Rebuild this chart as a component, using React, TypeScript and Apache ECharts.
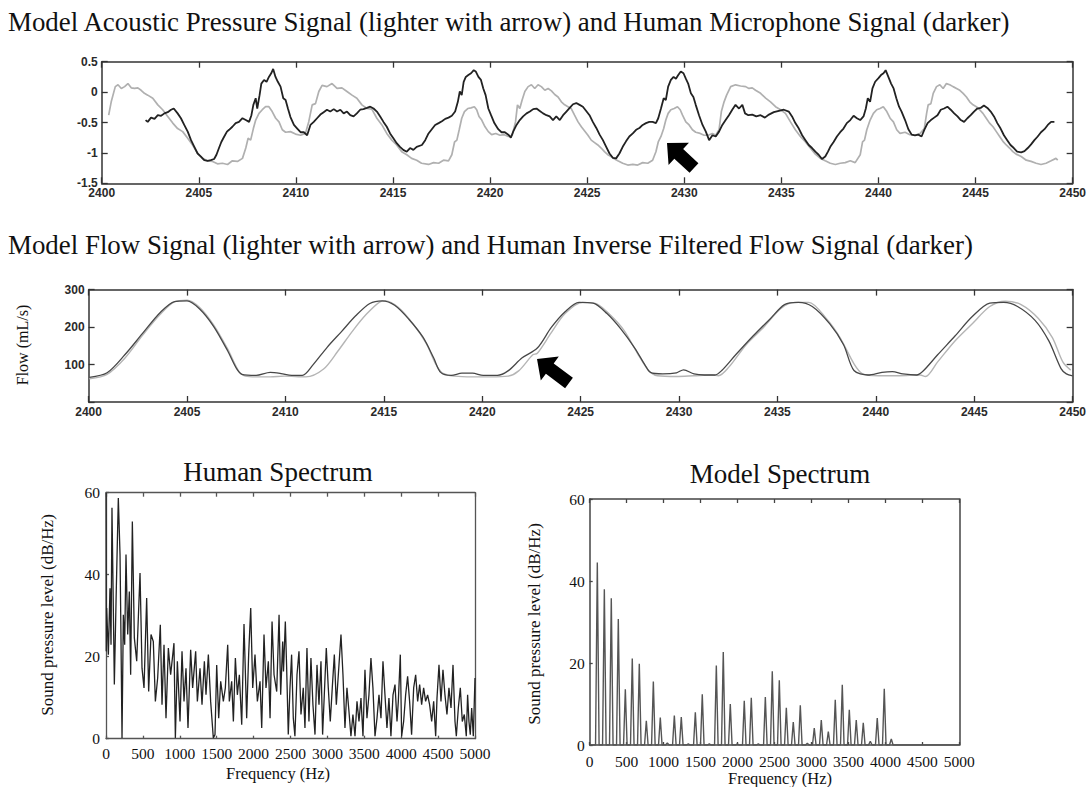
import React, { useEffect, useRef } from "react";
import * as echarts from "echarts";

const SANS = "'Liberation Sans', Arial, sans-serif";
const SERIF = "'Liberation Serif', 'Times New Roman', serif";

const titleTop = "Model Acoustic Pressure Signal (lighter with arrow) and Human Microphone Signal (darker)";
const titleMid = "Model Flow Signal (lighter with arrow) and Human Inverse Filtered Flow Signal (darker)";
const flowAxisName = "Flow (mL/s)";
const humanTitle = "Human Spectrum";
const modelTitle = "Model Spectrum";
const splName = "Sound pressure level (dB/Hz)";
const freqName = "Frequency (Hz)";

// time (ms) vs acoustic pressure, model (lighter)
const pressureModel: number[][] = [
  [2400.36, -0.38], [2400.49, -0.16], [2400.7, 0.09], [2400.84, 0.12], [2401.01, 0.06], [2401.18, 0.09],
  [2401.35, 0.14], [2401.52, 0.07], [2401.69, 0.06], [2401.86, 0.07], [2402.03, 0.03], [2402.2, -0.02],
  [2402.37, -0.05], [2402.63, -0.1], [2402.89, -0.21], [2403.14, -0.29], [2403.4, -0.4], [2403.66, -0.51],
  [2403.91, -0.6], [2404.17, -0.65], [2404.43, -0.76], [2404.68, -0.87], [2404.94, -1.01], [2405.19, -1.09],
  [2405.45, -1.13], [2405.71, -1.14], [2405.96, -1.18], [2406.22, -1.17], [2406.48, -1.19], [2406.73, -1.13],
  [2406.99, -1.14], [2407.25, -1.09], [2407.42, -0.92], [2407.54, -0.76], [2407.67, -0.79], [2407.81, -0.6],
  [2407.93, -0.46], [2408.1, -0.35], [2408.27, -0.29], [2408.44, -0.24], [2408.61, -0.24], [2408.78, -0.32],
  [2408.96, -0.43], [2409.13, -0.49], [2409.3, -0.62], [2409.47, -0.66], [2409.72, -0.65], [2409.98, -0.69],
  [2410.24, -0.71], [2410.49, -0.68], [2410.66, -0.49], [2410.84, -0.21], [2411.01, -0.19], [2411.18, 0.01],
  [2411.35, 0.11], [2411.6, 0.09], [2411.86, 0.14], [2412.12, 0.06], [2412.37, 0.07], [2412.63, 0.01],
  [2412.89, -0.05], [2413.14, -0.1], [2413.4, -0.21], [2413.66, -0.27], [2413.91, -0.28], [2414.17, -0.43],
  [2414.43, -0.54], [2414.68, -0.68], [2414.94, -0.79], [2415.19, -0.87], [2415.45, -0.98], [2415.71, -1.03],
  [2415.96, -1.09], [2416.22, -1.12], [2416.47, -1.17], [2416.83, -1.19], [2417.09, -1.16], [2417.35, -1.17],
  [2417.6, -1.12], [2417.86, -1.13], [2418.03, -1.03], [2418.17, -0.82], [2418.29, -0.79], [2418.41, -0.62],
  [2418.54, -0.43], [2418.68, -0.32], [2418.85, -0.27], [2419.02, -0.26], [2419.19, -0.24], [2419.31, -0.29],
  [2419.43, -0.4], [2419.57, -0.46], [2419.74, -0.57], [2419.91, -0.65], [2420.08, -0.7], [2420.29, -0.68],
  [2420.51, -0.71], [2420.73, -0.7], [2420.94, -0.73], [2421.14, -0.71], [2421.31, -0.49], [2421.41, -0.21],
  [2421.53, -0.27], [2421.65, -0.13], [2421.79, 0.01], [2421.96, 0.09], [2422.13, 0.12], [2422.3, 0.06],
  [2422.47, 0.12], [2422.64, 0.09], [2422.82, 0.03], [2422.99, 0.06], [2423.16, 0.02], [2423.33, -0.04],
  [2423.5, -0.08], [2423.67, -0.16], [2423.84, -0.21], [2424.01, -0.24], [2424.18, -0.27], [2424.35, -0.38],
  [2424.53, -0.49], [2424.7, -0.57], [2424.87, -0.64], [2425.04, -0.71], [2425.21, -0.79], [2425.38, -0.83],
  [2425.55, -0.87], [2425.72, -0.92], [2425.89, -0.98], [2426.06, -1.03], [2426.23, -1.06], [2426.41, -1.1],
  [2426.58, -1.13], [2426.83, -1.17], [2427.09, -1.2], [2427.35, -1.19], [2427.6, -1.2], [2427.86, -1.16],
  [2428.12, -1.17], [2428.37, -1.12], [2428.54, -0.98], [2428.66, -0.82], [2428.8, -0.73], [2428.94, -0.6],
  [2429.05, -0.46], [2429.17, -0.35], [2429.31, -0.29], [2429.48, -0.27], [2429.65, -0.24], [2429.79, -0.29],
  [2429.91, -0.38], [2430.08, -0.49], [2430.25, -0.54], [2430.42, -0.62], [2430.59, -0.66], [2430.82, -0.68],
  [2431.02, -0.71], [2431.23, -0.71], [2431.45, -0.68], [2431.62, -0.71], [2431.79, -0.62], [2431.91, -0.32],
  [2432.05, -0.16], [2432.18, -0.05], [2432.39, 0.09], [2432.64, 0.12], [2432.9, 0.1], [2433.16, 0.09],
  [2433.33, 0.06], [2433.5, 0.07], [2433.67, 0.03], [2433.93, -0.02], [2434.19, -0.1], [2434.44, -0.16],
  [2434.7, -0.24], [2434.96, -0.29], [2435.21, -0.35], [2435.47, -0.49], [2435.72, -0.62], [2435.98, -0.73],
  [2436.24, -0.82], [2436.49, -0.92], [2436.75, -1.02], [2437.01, -1.09], [2437.26, -1.13], [2437.52, -1.17],
  [2437.78, -1.19], [2438.03, -1.17], [2438.29, -1.16], [2438.55, -1.13], [2438.8, -1.16], [2439.06, -1.03],
  [2439.18, -0.82], [2439.28, -0.79], [2439.4, -0.62], [2439.57, -0.46], [2439.74, -0.35], [2439.91, -0.29],
  [2440.08, -0.27], [2440.25, -0.24], [2440.43, -0.32], [2440.6, -0.43], [2440.77, -0.49], [2440.94, -0.62],
  [2441.11, -0.68], [2441.37, -0.66], [2441.62, -0.7], [2441.88, -0.71], [2442.14, -0.68], [2442.36, -0.6],
  [2442.48, -0.35], [2442.56, -0.21], [2442.7, -0.19], [2442.82, -0.02], [2442.99, 0.09], [2443.16, 0.12],
  [2443.33, 0.06], [2443.5, 0.14], [2443.67, 0.12], [2443.84, 0.09], [2444.02, 0.06], [2444.19, 0.03],
  [2444.36, -0.02], [2444.53, -0.08], [2444.7, -0.16], [2444.87, -0.21], [2445.04, -0.24], [2445.21, -0.29],
  [2445.38, -0.35], [2445.55, -0.43], [2445.72, -0.51], [2445.9, -0.57], [2446.07, -0.65], [2446.24, -0.73],
  [2446.41, -0.81], [2446.58, -0.87], [2446.75, -0.92], [2446.92, -0.98], [2447.09, -1.02], [2447.35, -1.06],
  [2447.61, -1.12], [2447.86, -1.14], [2448.12, -1.17], [2448.37, -1.19], [2448.63, -1.17], [2448.89, -1.13],
  [2449.14, -1.09], [2449.23, -1.12],
];

// time (ms) vs microphone signal, human (darker)
const pressureHuman: number[][] = [
  [2402.26, -0.46], [2402.37, -0.49], [2402.54, -0.42], [2402.72, -0.44], [2402.89, -0.38], [2403.06, -0.39],
  [2403.23, -0.35], [2403.4, -0.33], [2403.57, -0.29], [2403.71, -0.27], [2403.91, -0.35], [2404.08, -0.43],
  [2404.25, -0.54], [2404.43, -0.65], [2404.6, -0.79], [2404.77, -0.9], [2404.94, -1.01], [2405.11, -1.06],
  [2405.28, -1.12], [2405.45, -1.13], [2405.62, -1.12], [2405.79, -1.1], [2405.91, -1.03], [2406.04, -0.92],
  [2406.16, -0.82], [2406.31, -0.73], [2406.45, -0.65], [2406.56, -0.62], [2406.73, -0.57], [2406.9, -0.51],
  [2407.07, -0.49], [2407.25, -0.43], [2407.42, -0.46], [2407.59, -0.49], [2407.71, -0.38], [2407.81, -0.21],
  [2407.93, -0.1], [2408.01, -0.27], [2408.13, -0.05], [2408.22, 0.14], [2408.36, 0.2], [2408.49, 0.17],
  [2408.61, 0.25], [2408.73, 0.31], [2408.83, 0.38], [2408.95, 0.25], [2409.07, 0.17], [2409.21, 0.09],
  [2409.35, -0.1], [2409.47, -0.13], [2409.59, -0.27], [2409.72, -0.41], [2409.9, -0.54], [2410.07, -0.6],
  [2410.24, -0.66], [2410.41, -0.66], [2410.58, -0.71], [2410.75, -0.54], [2410.92, -0.49], [2411.09, -0.43],
  [2411.26, -0.37], [2411.43, -0.33], [2411.6, -0.29], [2411.77, -0.32], [2411.95, -0.28], [2412.12, -0.32],
  [2412.29, -0.29], [2412.46, -0.35], [2412.63, -0.32], [2412.8, -0.38], [2412.97, -0.4], [2413.14, -0.35],
  [2413.31, -0.29], [2413.48, -0.28], [2413.66, -0.26], [2413.83, -0.24], [2414.0, -0.27], [2414.17, -0.32],
  [2414.34, -0.4], [2414.51, -0.49], [2414.68, -0.57], [2414.85, -0.68], [2415.02, -0.76], [2415.19, -0.84],
  [2415.36, -0.9], [2415.53, -0.95], [2415.71, -0.98], [2415.88, -0.92], [2416.05, -0.95], [2416.22, -0.9],
  [2416.49, -0.87], [2416.66, -0.79], [2416.83, -0.68], [2417.0, -0.61], [2417.17, -0.54], [2417.35, -0.51],
  [2417.52, -0.48], [2417.69, -0.44], [2417.86, -0.42], [2418.03, -0.39], [2418.2, -0.32], [2418.34, -0.16],
  [2418.44, 0.01], [2418.54, -0.05], [2418.64, 0.17], [2418.75, 0.25], [2418.88, 0.28], [2419.02, 0.31],
  [2419.16, 0.36], [2419.26, 0.34], [2419.4, 0.25], [2419.53, 0.2], [2419.65, 0.06], [2419.77, -0.05],
  [2419.91, -0.27], [2420.05, -0.38], [2420.22, -0.51], [2420.42, -0.61], [2420.59, -0.66], [2420.76, -0.66],
  [2420.94, -0.7], [2421.07, -0.75], [2421.19, -0.65], [2421.36, -0.54], [2421.53, -0.46], [2421.7, -0.4],
  [2421.88, -0.35], [2422.05, -0.32], [2422.22, -0.28], [2422.39, -0.27], [2422.56, -0.31], [2422.73, -0.35],
  [2422.9, -0.38], [2423.07, -0.4], [2423.24, -0.46], [2423.41, -0.4], [2423.59, -0.46], [2423.76, -0.38],
  [2423.93, -0.32], [2424.1, -0.26], [2424.27, -0.2], [2424.44, -0.18], [2424.61, -0.21], [2424.78, -0.24],
  [2424.95, -0.31], [2425.12, -0.38], [2425.29, -0.49], [2425.47, -0.59], [2425.64, -0.7], [2425.81, -0.79],
  [2425.98, -0.9], [2426.15, -1.01], [2426.32, -1.08], [2426.49, -1.09], [2426.66, -1.01], [2426.83, -0.9],
  [2427.0, -0.81], [2427.17, -0.73], [2427.35, -0.68], [2427.52, -0.62], [2427.69, -0.59], [2427.86, -0.54],
  [2428.03, -0.51], [2428.2, -0.49], [2428.37, -0.49], [2428.54, -0.51], [2428.66, -0.43], [2428.8, -0.27],
  [2428.94, -0.1], [2429.05, -0.13], [2429.17, 0.09], [2429.31, 0.2], [2429.45, 0.25], [2429.57, 0.22],
  [2429.69, 0.28], [2429.82, 0.34], [2429.96, 0.31], [2430.08, 0.22], [2430.2, 0.14], [2430.34, -0.02],
  [2430.47, -0.08], [2430.59, -0.21], [2430.76, -0.38], [2430.94, -0.54], [2431.11, -0.65], [2431.28, -0.79],
  [2431.45, -0.71], [2431.62, -0.73], [2431.79, -0.65], [2431.96, -0.54], [2432.13, -0.46], [2432.3, -0.38],
  [2432.47, -0.29], [2432.64, -0.21], [2432.82, -0.27], [2432.99, -0.21], [2433.13, -0.35], [2433.3, -0.38],
  [2433.5, -0.37], [2433.71, -0.4], [2433.93, -0.38], [2434.15, -0.42], [2434.36, -0.37], [2434.61, -0.33],
  [2434.87, -0.31], [2435.13, -0.29], [2435.38, -0.32], [2435.55, -0.4], [2435.72, -0.51], [2435.9, -0.6],
  [2436.07, -0.71], [2436.24, -0.79], [2436.41, -0.87], [2436.58, -0.92], [2436.75, -0.98], [2436.92, -1.03],
  [2437.09, -1.1], [2437.26, -1.06], [2437.4, -0.98], [2437.52, -0.9], [2437.69, -0.82], [2437.86, -0.73],
  [2438.03, -0.66], [2438.2, -0.6], [2438.37, -0.51], [2438.55, -0.46], [2438.72, -0.39], [2438.89, -0.43],
  [2439.06, -0.46], [2439.23, -0.4], [2439.35, -0.27], [2439.45, -0.1], [2439.57, -0.16], [2439.69, 0.06],
  [2439.83, 0.17], [2440.0, 0.23], [2440.13, 0.28], [2440.26, 0.31], [2440.37, 0.36], [2440.51, 0.25],
  [2440.65, 0.14], [2440.78, 0.06], [2440.92, -0.1], [2441.06, -0.24], [2441.19, -0.32], [2441.37, -0.46],
  [2441.54, -0.61], [2441.71, -0.7], [2441.88, -0.71], [2442.05, -0.7], [2442.22, -0.73], [2442.36, -0.62],
  [2442.53, -0.51], [2442.7, -0.46], [2442.87, -0.42], [2443.04, -0.38], [2443.21, -0.29], [2443.38, -0.27],
  [2443.55, -0.24], [2443.72, -0.29], [2443.9, -0.35], [2444.07, -0.4], [2444.24, -0.46], [2444.41, -0.49],
  [2444.58, -0.43], [2444.75, -0.38], [2444.92, -0.32], [2445.09, -0.27], [2445.26, -0.26], [2445.43, -0.22],
  [2445.61, -0.26], [2445.78, -0.32], [2445.95, -0.4], [2446.12, -0.51], [2446.29, -0.6], [2446.46, -0.71],
  [2446.63, -0.79], [2446.8, -0.87], [2446.97, -0.92], [2447.14, -0.98], [2447.35, -0.99], [2447.52, -0.97],
  [2447.69, -0.92], [2447.86, -0.86], [2448.03, -0.79], [2448.2, -0.73], [2448.37, -0.66], [2448.55, -0.61],
  [2448.72, -0.54], [2448.89, -0.49], [2449.06, -0.49],
];

// time (ms) vs flow (mL/s)
const flowModel: number[][] = [
  [2400.04, 62], [2400.94, 74], [2401.84, 117], [2402.74, 178], [2403.64, 234], [2404.37, 268], [2405.0, 272],
  [2405.63, 253], [2406.35, 206], [2407.07, 141], [2407.61, 84], [2407.97, 69], [2408.51, 67], [2409.23, 67],
  [2409.95, 69], [2411.04, 67], [2411.94, 88], [2412.67, 136], [2413.39, 188], [2414.11, 234], [2414.83, 268],
  [2415.1, 270], [2415.73, 253], [2416.45, 211], [2417.17, 155], [2417.62, 103], [2417.98, 77], [2418.61, 69],
  [2419.51, 67], [2420.41, 67], [2421.31, 69], [2421.85, 83], [2422.57, 126], [2422.8, 130], [2423.51, 185],
  [2424.21, 236], [2425.1, 266], [2425.81, 262], [2426.51, 232], [2427.22, 190], [2427.93, 126], [2428.46, 84],
  [2428.9, 70], [2429.87, 68], [2430.76, 70], [2431.64, 72], [2432.0, 70], [2432.53, 93], [2433.41, 153],
  [2434.29, 199], [2435.18, 250], [2435.89, 266], [2436.59, 266], [2437.48, 223], [2438.18, 172], [2438.89, 102],
  [2439.33, 75], [2440.13, 70], [2441.19, 70], [2442.25, 72], [2442.52, 68], [2443.14, 107], [2444.02, 163],
  [2444.9, 209], [2445.79, 255], [2446.58, 269], [2447.38, 260], [2448.26, 223], [2448.97, 172], [2449.5, 107],
  [2449.9, 85],
];

const flowHuman: number[][] = [
  [2400.04, 66], [2400.94, 78], [2401.84, 126], [2402.74, 183], [2403.64, 239], [2404.37, 268], [2405.0, 270],
  [2405.63, 249], [2406.35, 202], [2407.07, 136], [2407.52, 89], [2407.79, 74], [2408.51, 71], [2409.23, 79],
  [2409.78, 76], [2410.32, 71], [2410.86, 71], [2411.4, 99], [2412.12, 146], [2412.85, 188], [2413.57, 230],
  [2414.29, 263], [2414.92, 270], [2415.55, 258], [2416.27, 221], [2416.99, 173], [2417.53, 118], [2417.89, 79],
  [2418.43, 71], [2418.97, 77], [2419.51, 77], [2420.05, 71], [2420.77, 71], [2421.31, 83], [2422.03, 118],
  [2422.8, 144], [2423.51, 199], [2424.21, 241], [2424.92, 266], [2425.63, 264], [2426.34, 236], [2427.04, 195],
  [2427.75, 144], [2428.28, 98], [2428.55, 79], [2429.17, 75], [2429.87, 78], [2430.23, 86], [2430.76, 75],
  [2431.29, 72], [2431.82, 72], [2432.17, 84], [2432.88, 126], [2433.76, 176], [2434.65, 223], [2435.36, 260],
  [2436.06, 266], [2436.77, 255], [2437.65, 209], [2438.36, 153], [2438.89, 84], [2439.6, 72], [2440.31, 79],
  [2440.84, 81], [2441.37, 75], [2442.07, 72], [2442.43, 84], [2443.14, 126], [2444.02, 176], [2444.9, 228],
  [2445.79, 264], [2446.5, 266], [2447.2, 255], [2448.09, 218], [2448.79, 163], [2449.41, 89], [2449.68, 75],
  [2450.0, 70],
];

// Human spectrum: frequency (Hz) and level (dB/Hz)
const humanFreq = [
  0, 3, 9, 32, 54, 68, 81, 113, 136, 167,
  190, 203, 217, 235, 253, 271, 294, 316, 334, 357,
  384, 416, 461, 488, 515, 551, 578, 610, 641, 669,
  700, 736, 759, 786, 813, 845, 876, 921, 940, 967,
  1003, 1030, 1057, 1084, 1111, 1147, 1174, 1215, 1238, 1274,
  1301, 1333, 1355, 1387, 1418, 1454, 1477, 1500, 1527, 1554,
  1590, 1617, 1649, 1671, 1703, 1726, 1753, 1780, 1807, 1839,
  1870, 1906, 1933, 1961, 1988, 2019, 2051, 2087, 2110, 2141,
  2168, 2200, 2223, 2250, 2277, 2313, 2345, 2367, 2394, 2405,
  2430, 2448, 2470, 2493, 2515, 2538, 2560, 2588, 2615, 2642,
  2673, 2696, 2723, 2750, 2777, 2804, 2832, 2859, 2886, 2913,
  2935, 2958, 2985, 3012, 3039, 3066, 3094, 3121, 3148, 3184,
  3211, 3238, 3265, 3292, 3319, 3346, 3374, 3401, 3428, 3455,
  3482, 3509, 3536, 3563, 3590, 3617, 3645, 3672, 3699, 3726,
  3753, 3780, 3807, 3834, 3861, 3889, 3916, 3943, 3961, 3988,
  4006, 4033, 4060, 4087, 4114, 4141, 4169, 4196, 4223, 4250,
  4277, 4304, 4331, 4358, 4385, 4413, 4440, 4467, 4485, 4512,
  4539, 4566, 4593, 4620, 4647, 4675, 4702, 4729, 4747, 4774,
  4801, 4828, 4855, 4882, 4900, 4918, 4936, 4955, 4977, 5000,
];
const humanLevel = [
  60, 21.3, 31.9, 20.5, 36.7, 22.9, 56.3, 13.2, 33.5, 58.7,
  44.9, 24.6, 0.2, 30.2, 22.9, 44.9, 25.4, 35.9, 15.6, 53.0,
  24.6, 18.9, 40.4, 17.2, 12.4, 34.3, 11.5, 25.4, 23.7, 9.1,
  14.8, 27.8, 8.3, 22.9, 5.0, 22.1, 15.6, 23.3, 0.2, 18.9,
  4.2, 21.3, 9.1, 17.2, 2.6, 21.7, 12.4, 21.3, 9.1, 17.2,
  8.3, 18.9, 10.7, 20.5, 9.1, 0.2, 1.0, 18.0, 5.0, 14.0,
  9.1, 12.4, 22.9, 9.1, 14.0, 4.2, 19.7, 10.7, 15.6, 3.4,
  28.0, 5.0, 20.5, 31.9, 12.4, 20.5, 9.1, 14.0, 2.6, 25.4,
  12.4, 18.9, 5.0, 28.6, 15.6, 11.5, 30.2, 10.7, 23.7, 16.4,
  28.6, 17.2, 1.0, 12.4, 20.5, 5.0, 0.6, 15.6, 21.3, 5.9,
  12.4, 2.6, 22.1, 4.2, 19.7, 8.3, 1.0, 18.0, 8.3, 18.9,
  1.0, 10.7, 22.1, 12.4, 4.2, 12.4, 20.5, 8.3, 15.6, 25.4,
  15.6, 2.6, 12.4, 6.7, 0.6, 5.9, 0.6, 9.1, 4.2, 9.9,
  0.6, 16.8, 5.0, 10.7, 19.7, 12.4, 0.6, 5.0, 10.7, 5.0,
  18.9, 10.7, 2.6, 9.9, 0.6, 10.7, 13.2, 4.2, 9.1, 20.5,
  0.6, 4.2, 10.7, 15.2, 9.1, 1.0, 12.4, 15.6, 9.1, 13.2,
  8.3, 12.4, 9.1, 10.7, 8.3, 4.2, 9.1, 0.6, 9.9, 18.0,
  9.1, 16.8, 10.7, 5.9, 12.4, 7.5, 18.0, 4.2, 0.6, 7.5,
  12.4, 4.2, 5.9, 0.6, 10.7, 4.2, 1.0, 7.5, 0.6, 14.8,
];

// Model spectrum: harmonic frequencies (Hz) and levels (dB/Hz)
const modelFreq = [
  103, 198, 292, 387, 482, 576, 671, 766, 861, 955, 1050, 1145, 1239, 1334, 1429, 1523, 1618, 1713, 1807, 1902,
  1997, 2091, 2186, 2281, 2376, 2470, 2565, 2660, 2754, 2849, 2944, 3038, 3133, 3228, 3322, 3417, 3512, 3606,
  3701, 3796, 3890, 3985, 4080,
];
const modelLevel = [
  44.5, 38.0, 35.8, 30.7, 13.6, 21.1, 19.8, 5.9, 15.5, 6.7, 0.5, 7.2, 6.8, 0.3, 8.0, 12.4, 0.3, 19.4, 22.7, 10.0,
  0.3, 10.8, 11.5, 0.3, 11.7, 18.0, 15.8, 9.1, 5.6, 9.7, 0.4, 4.1, 6.1, 3.3, 11.0, 14.7, 8.6, 6.1,
  5.4, 0.9, 6.6, 13.7, 1.5,
];

const SPIKE_HALF_WIDTH = 24;

function spikeData(freqs: number[], levels: number[]) {
  const out: number[][] = [[0, 0]];
  freqs.forEach((f, i) => {
    out.push([f - SPIKE_HALF_WIDTH, 0], [f, levels[i]], [f + SPIKE_HALF_WIDTH, 0]);
  });
  out.push([5000, 0]);
  return out;
}

function arrowPts(tip: number[], tail: number[], headLen: number, headHalf: number, shaftHalf: number) {
  const dx = tip[0] - tail[0];
  const dy = tip[1] - tail[1];
  const L = Math.hypot(dx, dy);
  const ux = dx / L, uy = dy / L;
  const nx = -uy, ny = ux;
  const bx = tip[0] - ux * headLen, by = tip[1] - uy * headLen;
  return [
    tip,
    [bx + nx * headHalf, by + ny * headHalf],
    [bx + nx * shaftHalf, by + ny * shaftHalf],
    [tail[0] + nx * shaftHalf, tail[1] + ny * shaftHalf],
    [tail[0] - nx * shaftHalf, tail[1] - ny * shaftHalf],
    [bx - nx * shaftHalf, by - ny * shaftHalf],
    [bx - nx * headHalf, by - ny * headHalf],
  ];
}

const plain = (v: number) => String(v);

function mkAxis(
  gridIndex: number, position: string, min: number, max: number, interval: number,
  color: string, width: number, tickLen: number, label: any
) {
  return {
    type: "value", gridIndex, position, min, max, interval,
    axisLine: { show: true, onZero: false, lineStyle: { color, width } },
    axisTick: { show: tickLen > 0, inside: true, length: tickLen, lineStyle: { color, width: 1.3 } },
    axisLabel: label ? { show: true, formatter: plain, ...label } : { show: false },
    splitLine: { show: false },
  };
}

export default function App() {
  const ref = useRef<HTMLDivElement>(null);
  useEffect(() => {
    if (!ref.current) return;
    const chart = echarts.init(ref.current, undefined, { renderer: "svg" });

    const sansLab = (margin: number, size: number) => ({ fontFamily: SANS, fontSize: size, fontWeight: "bold", color: "#2a2a2a", margin });
    const serifLab = (margin: number, size: number) => ({ fontFamily: SERIF, fontSize: size, color: "#111", margin });

    const xAxis = [
      mkAxis(0, "bottom", 2400, 2450, 5, "#333", 1.5, 6, sansLab(4, 12)),
      mkAxis(0, "top", 2400, 2450, 5, "#333", 1.5, 6, null),
      mkAxis(1, "bottom", 2400, 2450, 5, "#333", 1.5, 6, sansLab(4, 12)),
      mkAxis(1, "top", 2400, 2450, 5, "#333", 1.5, 6, null),
      mkAxis(2, "bottom", 0, 5000, 500, "#555", 1.3, 3, serifLab(7, 15.5)),
      mkAxis(2, "top", 0, 5000, 500, "#555", 1.3, 4, null),
      mkAxis(3, "bottom", 0, 5000, 500, "#444", 1.5, 3, serifLab(8, 15.5)),
      mkAxis(3, "top", 0, 5000, 500, "#444", 1.5, 4, null),
    ];
    const yAxis = [
      mkAxis(0, "left", -1.5, 0.5, 0.5, "#333", 1.5, 6, sansLab(4, 12)),
      mkAxis(0, "right", -1.5, 0.5, 0.5, "#333", 1.5, 6, null),
      mkAxis(1, "left", 0, 300, 100, "#333", 1.5, 6, { ...sansLab(4, 12), formatter: (v: number) => (v === 0 ? "" : String(v)) }),
      mkAxis(1, "right", 0, 300, 100, "#333", 1.5, 6, null),
      mkAxis(2, "left", 0, 60, 20, "#555", 1.3, 3, serifLab(6, 15.5)),
      mkAxis(2, "right", 0, 60, 20, "#555", 1.3, 0, null),
      mkAxis(3, "left", 0, 60, 20, "#444", 1.5, 3, serifLab(5, 15.5)),
      mkAxis(3, "right", 0, 60, 20, "#444", 1.5, 0, null),
    ];

    const line = (data: number[][], xi: number, yi: number, color: string, width: number, z: number, smooth: any = false) => ({
      type: "line", data, xAxisIndex: xi, yAxisIndex: yi, symbol: "none", smooth, z,
      lineStyle: { color, width }, silent: true, clip: true,
    });

    const humanData = humanFreq.map((f, i) => [f, humanLevel[i]]);

    const text = (t: string, x: number, y: number, size: number, align = "center", rotation = 0) => ({
      type: "text", x, y, rotation, z: 50,
      style: { text: t, font: `normal ${size}px ${SERIF}`, fill: "#111", textAlign: align, textVerticalAlign: "middle" },
    });

    chart.setOption({
      animation: false,
      backgroundColor: "#ffffff",
      grid: [
        { left: 101.7, top: 61.7, width: 976.3, height: 121.6 },
        { left: 88.6, top: 289.6, width: 989.4, height: 112.4 },
        { left: 106, top: 492.7, width: 369, height: 246 },
        { left: 589.7, top: 499, width: 369.6, height: 246 },
      ],
      xAxis,
      yAxis,
      series: [
        line(pressureModel, 0, 0, "#b0b0b0", 1.7, 2),
        line(pressureHuman, 0, 0, "#222", 1.8, 3),
        line(flowModel, 2, 2, "#b5b5b5", 1.4, 2, 0.3),
        line(flowHuman, 2, 2, "#474747", 1.3, 3, 0.3),
        line(humanData, 4, 4, "#222", 1.3, 3),
        line(spikeData(modelFreq, modelLevel), 6, 6, "#555", 1.4, 3),
      ],
      graphic: [
        text(titleTop, 8, 22, 26.9, "left"),
        text(titleMid, 8, 245, 26.9, "left"),
        text(flowAxisName, 22, 345, 16, "center", Math.PI / 2),
        text(humanTitle, 278, 472, 27),
        text(modelTitle, 780, 474, 27),
        text(splName, 47, 615, 17, "center", Math.PI / 2),
        text(splName, 534, 624, 17, "center", Math.PI / 2),
        text(freqName, 278, 773, 16.5),
        text(freqName, 780, 778, 16.5),
        { type: "polygon", z: 60, shape: { points: arrowPts([667, 143], [694, 168], 16, 15, 6.5) }, style: { fill: "#000" } },
        { type: "polygon", z: 60, shape: { points: arrowPts([537, 359], [569, 383], 16, 15, 6.5) }, style: { fill: "#000" } },
      ],
    });
    return () => chart.dispose();
  }, []);
  return <div ref={ref} style={{ position: "absolute", left: 0, top: 0, width: 1089, height: 787 }} />;
}
